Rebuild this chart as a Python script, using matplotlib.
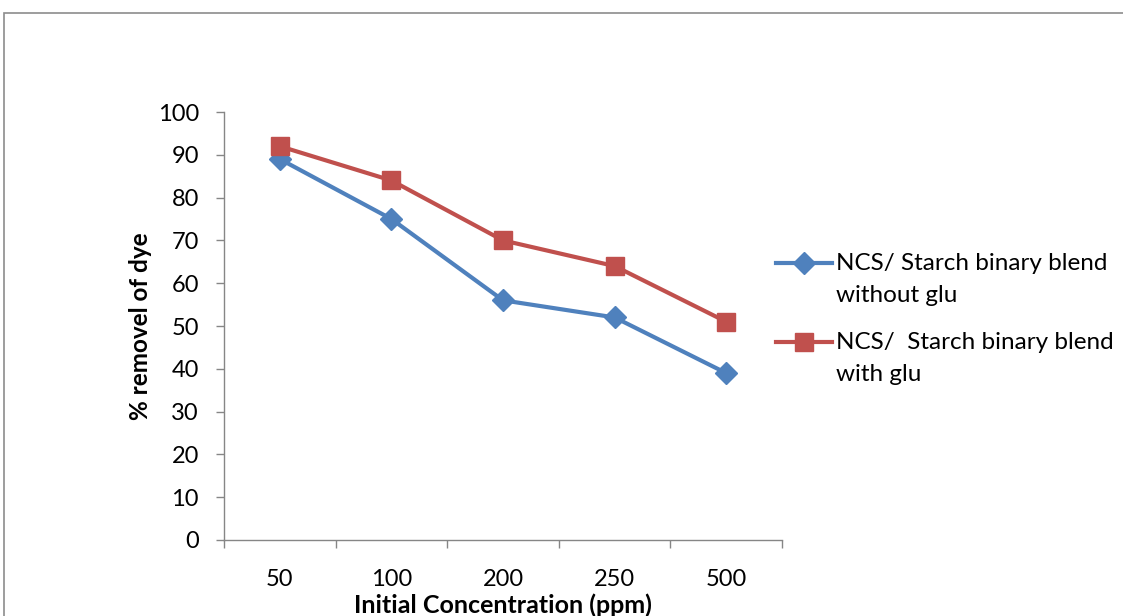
import matplotlib
matplotlib.use("Agg")
import matplotlib.pyplot as plt
from matplotlib.patches import Rectangle
from matplotlib.lines import Line2D
import numpy as np

categories = ["50", "100", "200", "250", "500"]
without_glu = [89, 75, 56, 52, 39]
with_glu = [92, 84, 70, 64, 51]
labels = ["NCS/ Starch binary blend\nwithout glu", "NCS/  Starch binary blend\nwith glu"]
yticks = [0, 10, 20, 30, 40, 50, 60, 70, 80, 90, 100]
colors = ["#4F81BD", "#C0504D"]
markers = ["D", "s"]
msizes = [11, 13]

plt.rcParams['font.family'] = ['Lato', 'DejaVu Sans']

W, H = 1123, 616
fig = plt.figure(figsize=(W/100, H/100), dpi=100)
ax = fig.add_axes([224/W, 1-540/H, (782-224)/W, (540-112)/H])

x = np.arange(len(categories))
for vals, c, m, ms, lab in zip([without_glu, with_glu], colors, markers, msizes, labels):
    ax.plot(x, vals, color=c, lw=3, marker=m, ms=ms, label=lab)

ax.set_xlim(-0.5, len(categories)-0.5)
ax.set_ylim(0, 100)
ax.set_yticks(yticks)
ax.set_xticks(x)
ax.set_xticklabels(categories)
ax.set_xticks(np.arange(-0.5, len(categories), 1), minor=True)
ax.tick_params(axis='x', which='major', length=0, labelsize=17, pad=21)
ax.tick_params(axis='x', which='minor', length=6, color="#868686", width=1)
ax.tick_params(axis='y', length=6, color="#868686", width=1, labelsize=17, pad=12)

for s in ["top", "right"]:
    ax.spines[s].set_visible(False)
for s in ["left", "bottom"]:
    ax.spines[s].set_color("#868686")
    ax.spines[s].set_linewidth(1)

fig.text(140/W, 1-326/H, "% removel of dye", rotation=90, ha="center", va="center",
         fontsize=17.5, fontweight="bold")
fig.text(503/W, 1-605/H, "Initial Concentration (ppm)", ha="center", va="center",
         fontsize=18, fontweight="bold")

# legend drawn manually (handle aligned with first text line, as in the reference)
leg_y = [263, 342]
for yy, c, m, ms, lab in zip(leg_y, colors, markers, msizes, labels):
    fig.add_artist(Line2D([776/W, 832/W], [1-yy/H, 1-yy/H], transform=fig.transFigure,
                          color=c, lw=3))
    fig.add_artist(Line2D([804/W], [1-yy/H], transform=fig.transFigure,
                          color=c, marker=m, ms=ms, lw=0))
    fig.text(836/W, 1-(yy-10)/H, lab, ha="left", va="top", fontsize=17.5, linespacing=1.62)

fig.patches.append(Rectangle((4/W, -0.1), 1.2, 1-13/H+0.1, transform=fig.transFigure,
                             fill=False, edgecolor="#8c8c8c", lw=1.2))

fig.savefig("out.png", dpi=100)
